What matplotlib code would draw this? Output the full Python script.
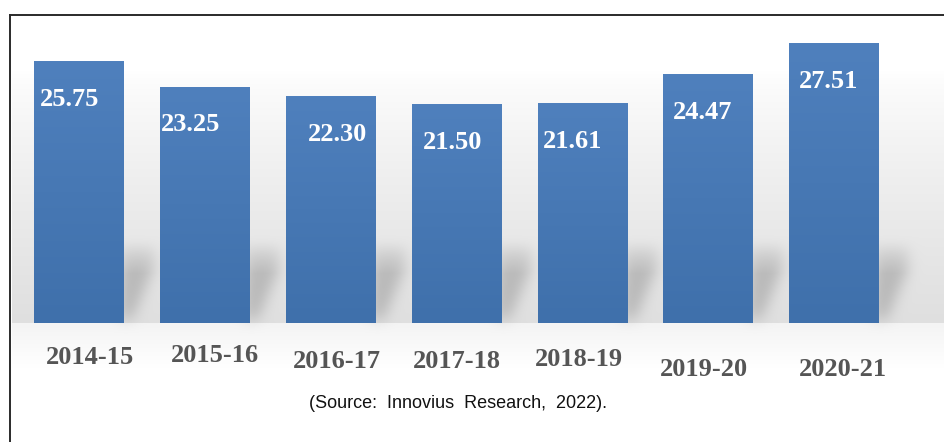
import numpy as np
import matplotlib
matplotlib.use("Agg")
import matplotlib.pyplot as plt
from matplotlib.lines import Line2D
from matplotlib.path import Path

# data
years = ["2014-15", "2015-16", "2016-17", "2017-18", "2018-19", "2019-20", "2020-21"]
values = [25.75, 23.25, 22.30, 21.50, 21.61, 24.47, 27.51]

# small hand nudges (pixels) for the labels
val_dx = [-9, -14, 7, -4, -10, -5, -5]
cat_dx = [11, 10, 6, 0, -3, -4, 9]
cat_dy = [34, 33, 39, 38, 37, 46, 46]

W, H = 944, 442
fig = plt.figure(figsize=(W / 100, H / 100), dpi=100)
fig.patch.set_facecolor("white")

# background axes in pixel coords (for the grey wall + shadows)
bg = fig.add_axes([0, 0, 1, 1])
bg.set_xlim(0, W)
bg.set_ylim(H, 0)
bg.axis("off")

ax = fig.add_axes([16.1 / W, 119 / H, 880.6 / W, 308 / H])
ax.patch.set_alpha(0)
ax.axis("off")

x = np.arange(len(years))
bars = ax.bar(x, values, width=0.708, color="#4a7bb8", zorder=2)

# vertical gradient inside each bar
grad = np.linspace(0, 1, 100).reshape(-1, 1)
top_c = np.array([0x4f, 0x80, 0xbd]) / 255
bot_c = np.array([0x3f, 0x70, 0xab]) / 255
gimg = top_c * (1 - grad[..., None]) + bot_c * grad[..., None]
for b in bars:
    x0, w, h = b.get_x(), b.get_width(), b.get_height()
    im = ax.imshow(gimg, extent=(x0, x0 + w, 0, h), aspect="auto", zorder=3)
    im.set_clip_path(b)
ax.set_xlim(-0.5, 6.5)
ax.set_ylim(0, 308 / 10.17)

# grey wall gradient + floor
rows = np.arange(H)[:, None].astype(float)
cols = np.arange(W)[None, :].astype(float)
base = 323.0
wall = 255 - 32 * np.clip((rows - 70) / (base - 70), 0, 1) ** 0.8
floor = 244 + 11 * np.clip((rows - base) / 45, 0, 1)
lum = np.where(rows < base, wall, floor) * np.ones_like(cols)
lum = np.where(cols < 12, 255, lum)

# soft shadows to the right of each bar
yy, xx = np.mgrid[0:H, 0:W]
pts = np.column_stack([xx.ravel() + 0.5, yy.ravel() + 0.5])
mask = np.zeros(H * W)
fig.canvas.draw()
for b in bars:
    ext = b.get_window_extent()
    xr = ext.x1
    poly = Path([(xr - 4, base - 4), (xr - 4, base - 80), (xr + 30, base - 80),
                 (xr + 30, base - 55), (xr + 8, base - 4)])
    mask = np.maximum(mask, poly.contains_points(pts))
mask = mask.reshape(H, W)
k = np.exp(-0.5 * (np.arange(-20, 21) / 7.0) ** 2)
k /= k.sum()
mask = np.apply_along_axis(lambda r: np.convolve(r, k, mode="same"), 1, mask)
mask = np.apply_along_axis(lambda c: np.convolve(c, k, mode="same"), 0, mask)
# fade the top of the shadows
fade = np.clip((rows - (base - 90)) / 40, 0, 1)
lum = lum - 42 * mask * fade
lum = np.clip(lum, 0, 255) / 255
bg.imshow(np.dstack([lum, lum, lum]), extent=(0, W, H, 0), aspect="auto",
          interpolation="bilinear", zorder=0)

# labels
for i, b in enumerate(bars):
    cx = b.get_x() + b.get_width() / 2
    ax.annotate(f"{values[i]:.2f}", (cx, values[i]), xytext=(val_dx[i], -38),
                textcoords="offset pixels", ha="center", va="center",
                color="white", fontsize=19, fontweight="bold",
                family="Liberation Serif", zorder=4)
    ax.annotate(years[i], (cx, 0), xytext=(cat_dx[i], -cat_dy[i]),
                textcoords="offset pixels", ha="center", va="center",
                color="#555555", fontsize=19, fontweight="bold",
                family="Liberation Serif", annotation_clip=False, zorder=4)

# frame
fig.add_artist(Line2D([10 / W, 1], [1 - 15 / H] * 2, transform=fig.transFigure,
                      color="#2a2a2a", lw=1.4))
fig.add_artist(Line2D([10 / W, 10 / W], [0, 1 - 15 / H], transform=fig.transFigure,
                      color="#2a2a2a", lw=1.4))

fig.text(458 / W, 1 - 403 / H, "(Source:  Innovius  Research,  2022).",
         ha="center", va="center", fontsize=13, family="Liberation Sans",
         color="#111111")

fig.savefig("out.png", dpi=100)
